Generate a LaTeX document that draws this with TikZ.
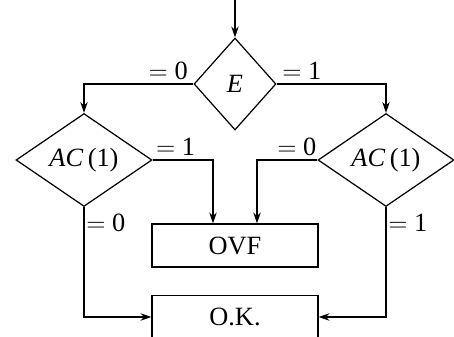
\documentclass[tikz,border=0pt]{standalone}
\usepackage{fontspec}
\setmainfont{Liberation Serif}
\usetikzlibrary{positioning,arrows.meta,calc,shapes.geometric}
\tikzset{
  test/.style={diamond, draw, inner sep=0pt, align=center},
  blk/.style={draw, inner sep=0pt, minimum width=3.32cm, minimum height=0.86cm},
  flow/.style={-{Stealth[length=2.2mm, width=1.5mm]}},
  lbl/.style={inner sep=2pt},
}

\begin{document}
\begin{tikzpicture}[x=0.02cm, y=-0.02cm, line width=0.7pt,
    font=\fontsize{15}{18}\selectfont]
    \useasboundingbox (0,0) rectangle (454,336);

    \coordinate (start) at (235,0);
    \node[test, minimum width=1.64cm, minimum height=1.84cm] (e) at (235,84) {\textit{E}};
    \node[test, minimum width=2.72cm, minimum height=1.52cm] (acl) at (84,160) {\textit{AC}\,(1)};
    \node[test, minimum width=2.72cm, minimum height=1.52cm] (acr) at (386,160) {\textit{AC}\,(1)};
    \node[blk] (ovf) at (235,245.5) {OVF};
    \node[blk] (ok)  at (235,317) {O.K.};

    \draw[flow] (start) -- (e);
    \draw[flow] (e.west) -| node[pos=0.115, above, lbl] {$=$ 0} (acl.north);
    \draw[flow] (e.east) -| node[pos=0.115, above, lbl] {$=$ 1} (acr.north);
    \draw[flow] (acl.east) -| node[pos=0.19, above, lbl] {$=$ 1} ($(ovf.north)-(22,0)$);
    \draw[flow] (acr.west) -| node[pos=0.17, above, lbl] {$=$ 0} ($(ovf.north)+(22,0)$);
    \draw[flow] (acl.south) |- node[pos=0.07, right, inner sep=1pt] {$=$ 0} (ok.west);
    \draw[flow] (acr.south) |- node[pos=0.07, right, inner sep=1pt] {$=$ 1} (ok.east);
  \end{tikzpicture}
\end{document}
